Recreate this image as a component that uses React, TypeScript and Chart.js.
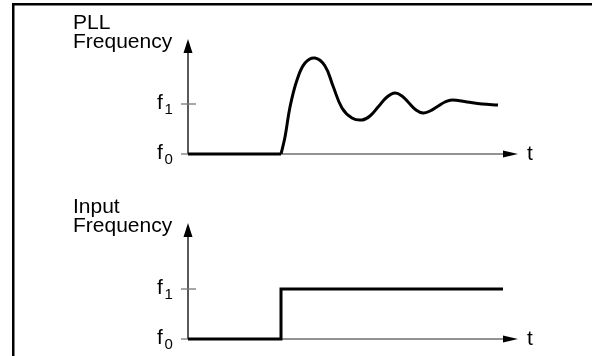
import React, { useEffect, useRef } from "react";
import { Chart, registerables } from "chart.js";

Chart.register(...registerables);

// ---- data ----
const pllTime = [9.3, 9.7, 10.2, 10.9, 11.7, 12.7, 13.7, 14.5, 15.4, 16.4, 17.4, 18.2, 19.05, 19.9, 20.7, 21.4, 22.1, 22.8, 23.5, 24.2, 24.95, 25.7, 26.4, 27.9, 29.4, 31.0];
const pllFreq = [0, 0.34, 0.94, 1.48, 1.82, 1.92, 1.76, 1.36, 0.92, 0.72, 0.68, 0.76, 0.95, 1.14, 1.22, 1.16, 1.02, 0.88, 0.82, 0.86, 0.95, 1.04, 1.08, 1.04, 1.0, 0.98];
const pllBaseTime = [0, 9.3];
const pllBaseFreq = [0, 0];
const inputTime = [0, 9.3, 9.3, 31.5];
const inputFreq = [0, 0, 1, 1];
const tickValues = [0, 1];
const tickBase = ["f", "f"];
const tickSubs = ["0", "1"];
const pllTitle = ["PLL", "Frequency"];
const inputTitle = ["Input", "Frequency"];
const xLabel = "t";

const FONT = '"Liberation Sans", Arial, sans-serif';

const toPts = (xs: number[], ys: number[]) => xs.map((x, i) => ({ x, y: ys[i] }));

const diagramPlugin = {
  id: "diagram",
  beforeDatasetsDraw(chart: any) {
    const opts = chart.options.plugins.diagram;
    const { ctx, chartArea } = chart;
    const xs = chart.scales.x;
    const ys = chart.scales.y;
    const left = xs.getPixelForValue(xs.min);
    const right = xs.getPixelForValue(xs.max);
    const y0 = ys.getPixelForValue(0);
    const top = chartArea.top;
    ctx.save();
    if (opts.border) {
      ctx.fillStyle = "#000";
      ctx.fillRect(12, 3, 2.5, 400);
      ctx.fillRect(12, 3, 700, 2.5);
    }
    // x axis
    ctx.strokeStyle = "#6e6e6e";
    ctx.lineWidth = 1.5;
    ctx.beginPath();
    ctx.moveTo(left, y0);
    ctx.lineTo(right - 12, y0);
    ctx.stroke();
    ctx.fillStyle = "#000";
    ctx.beginPath();
    ctx.moveTo(right, y0);
    ctx.lineTo(right - 15, y0 - 3.5);
    ctx.lineTo(right - 15, y0 + 3.5);
    ctx.closePath();
    ctx.fill();
    // y axis
    ctx.strokeStyle = "#000";
    ctx.lineWidth = 1.3;
    ctx.beginPath();
    ctx.moveTo(left, y0);
    ctx.lineTo(left, top + 10);
    ctx.stroke();
    ctx.beginPath();
    ctx.moveTo(left, top);
    ctx.lineTo(left - 4.5, top + 14);
    ctx.lineTo(left + 4.5, top + 14);
    ctx.closePath();
    ctx.fill();
    // ticks + labels
    tickValues.forEach((v, i) => {
      const py = ys.getPixelForValue(v);
      ctx.strokeStyle = "#777";
      ctx.lineWidth = 1.3;
      ctx.beginPath();
      ctx.moveTo(left - 7, py);
      ctx.lineTo(left + (v > 0 ? 8 : 0), py);
      ctx.stroke();
      ctx.fillStyle = "#000";
      ctx.textAlign = "left";
      ctx.textBaseline = "alphabetic";
      ctx.font = `21px ${FONT}`;
      ctx.fillText(tickBase[i], left - 31, py + 5);
      ctx.font = `15px ${FONT}`;
      ctx.fillText(tickSubs[i], left - 23.5, py + 10);
    });
    // x label
    ctx.font = `21px ${FONT}`;
    ctx.fillText(xLabel, right + 9, y0 + 6);
    // title
    ctx.font = `21px ${FONT}`;
    const title: string[] = opts.title;
    ctx.fillText(title[0], 73, top - 10);
    ctx.fillText(title[1], 73, top + 9);
    ctx.restore();
  },
};

function makeChart(canvas: HTMLCanvasElement, datasets: any[], padTop: number, padBottom: number, yMax: number, title: string[], border: boolean) {
  return new Chart(canvas, {
    type: "line",
    data: { datasets },
    options: {
      animation: false,
      responsive: false,
      events: [],
      layout: { padding: { left: 188, right: 74, top: padTop, bottom: padBottom } },
      scales: {
        x: { type: "linear", min: 0, max: 33, display: false },
        y: { type: "linear", min: 0, max: yMax, display: false },
      },
      plugins: {
        legend: { display: false },
        tooltip: { enabled: false },
        diagram: { title, border },
      } as any,
    },
    plugins: [diagramPlugin],
  });
}

const lineDs = (data: any[], extra: any = {}) => ({
  data,
  borderColor: "#000",
  borderWidth: 3,
  pointRadius: 0,
  fill: false,
  clip: false,
  tension: 0,
  borderJoinStyle: "round",
  ...extra,
});

export default function App() {
  const c1 = useRef<HTMLCanvasElement>(null);
  const c2 = useRef<HTMLCanvasElement>(null);
  useEffect(() => {
    const ch1 = makeChart(
      c1.current!,
      [
        lineDs(toPts(pllBaseTime, pllBaseFreq)),
        lineDs(toPts(pllTime, pllFreq), { tension: 0.4 }),
      ],
      39,
      356 - 154,
      2.3,
      pllTitle,
      true
    );
    const ch2 = makeChart(
      c2.current!,
      [lineDs(toPts(inputTime, inputFreq), { borderJoinStyle: "miter" })],
      223,
      356 - 339,
      2.32,
      inputTitle,
      false
    );
    return () => {
      ch1.destroy();
      ch2.destroy();
    };
  }, []);
  const style: React.CSSProperties = { position: "absolute", left: 0, top: 0, width: 592, height: 356 };
  return (
    <div style={{ position: "fixed", left: 0, top: 0, width: 592, height: 356, background: "#fff" }}>
      <canvas ref={c1} width={592} height={356} style={style} />
      <canvas ref={c2} width={592} height={356} style={style} />
    </div>
  );
}
